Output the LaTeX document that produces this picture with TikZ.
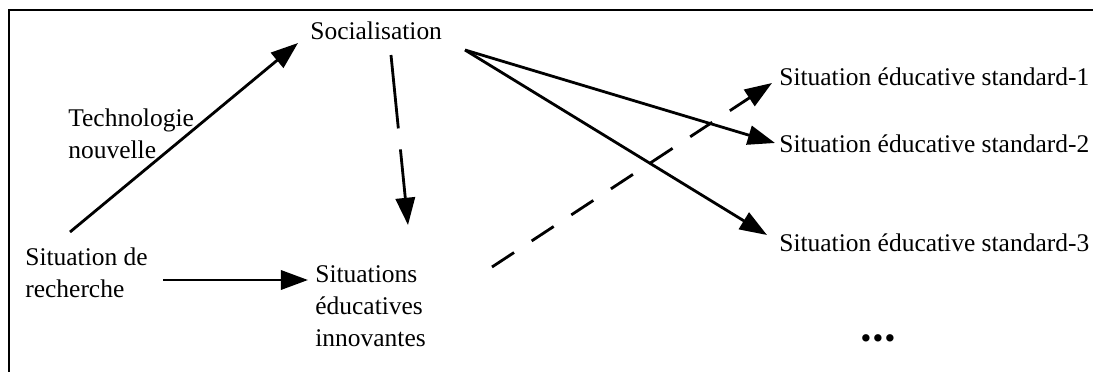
\documentclass[tikz,border=0pt]{standalone}
\usepackage{fontspec}
\setmainfont{Liberation Serif}
\usepackage{tikz}
\usetikzlibrary{arrows.meta}

\begin{document}
\begin{tikzpicture}[x = 0.02cm, y = -0.02cm,
            texte/.style = {anchor = base west, inner sep = 0pt, align = left, font = \fontsize{14.5}{18.1}\selectfont},
            fleche/.style = {line width = 1.6pt, -{Triangle[length = 15.5pt, width = 11pt]}},
            tirets/.style = {fleche, dash pattern = on 15pt off 12pt}]
            % \draw [help lines, step = 50] (0,0) grid (1093,372);

            \useasboundingbox (0,0) rectangle (1093,372);
            \draw [line width = 1.5pt] (9,372) -- (9,10) -- (1093,10);

            \node [texte] (soc) at (310,39) {Socialisation};
            \node [texte] (tech) at (68,158) {Technologie\\nouvelle};
            \node [texte] (rech) at (25,297) {Situation de\\recherche};
            \node [texte] (innov) at (315,346) {Situations\\éducatives\\innovantes};

            \node [texte] (std1) at (779,85) {Situation éducative standard-1};
            \node [texte] (std2) at (779,152) {Situation éducative standard-2};
            \node [texte] (std3) at (779,251) {Situation éducative standard-3};
            \node [texte, anchor = center, font = \fontsize{17.5}{18}\selectfont] (dots) at (878,342) {•\kern0.7pt•\kern0.7pt•};

            \draw [fleche] ([shift = {(45,-65)}] rech.base west) -- ([shift = {(-12,4)}] soc.base west);
            \draw [fleche] ([shift = {(138,-17)}] rech.base west) -- ([shift = {(-7,-66)}] innov.base west);
            \draw [fleche, dash pattern = on 42pt off 12pt] ([shift = {(81,16)}] soc.base west) -- ([shift = {(93,-121)}] innov.base west);

            \draw [fleche] ([shift = {(155,11)}] soc.base west) -- ([shift = {(-4,-9)}] std2.base west);
            \draw [fleche] ([shift = {(155,11)}] soc.base west) -- ([shift = {(-12,-16)}] std3.base west);
            \draw [tirets] ([shift = {(177,-79)}] innov.base west) -- ([shift = {(-7,-2)}] std1.base west);

\end{tikzpicture}
\end{document}
